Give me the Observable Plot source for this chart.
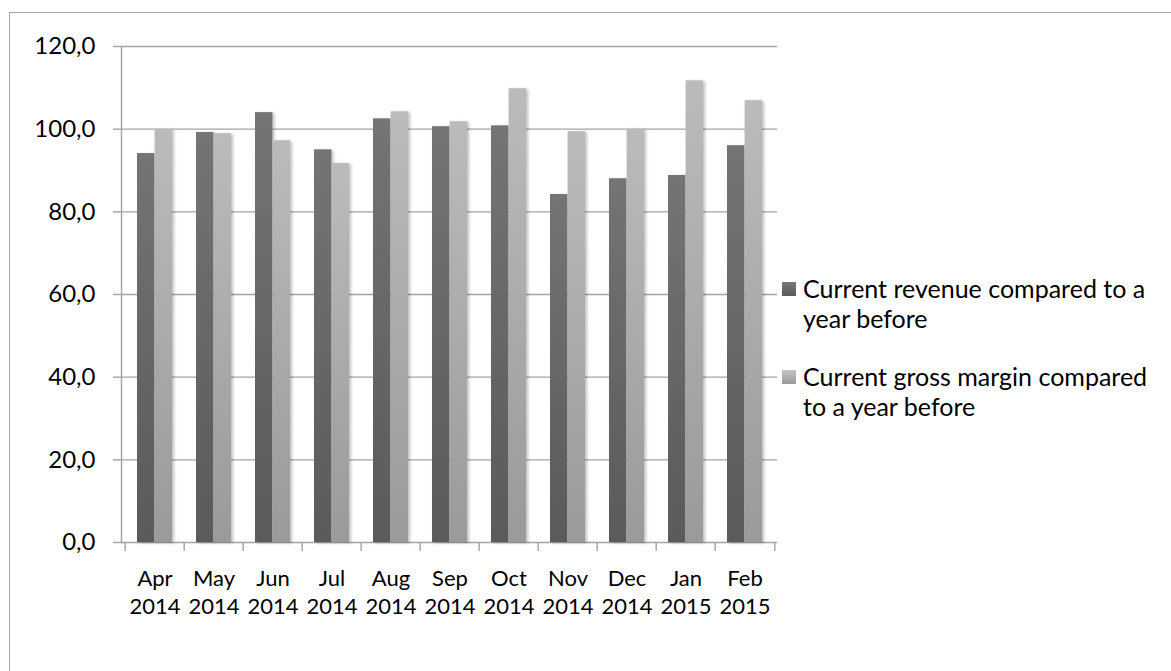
<!DOCTYPE html>
<html>
<head>
<meta charset="utf-8">
<script src="https://cdn.jsdelivr.net/npm/d3@7"></script>
<script src="https://cdn.jsdelivr.net/npm/@observablehq/plot@0.6"></script>
<style>
  html, body { margin: 0; padding: 0; background: #fff; }
  body { width: 1171px; height: 671px; position: relative; overflow: hidden; font-family: Lato, "Open Sans", sans-serif; }
  #frame { position: absolute; left: 9px; top: 12px; width: 1200px; height: 700px; border-left: 1.5px solid #a3a3a3; border-top: 1.5px solid #a3a3a3; box-sizing: border-box; }
  #chart { position: absolute; left: 0; top: 0; }
  #legend { position: absolute; left: 782px; top: 273px; font-size: 25px; line-height: 30px; color: #000; }
  .item { display: flex; align-items: flex-start; margin-bottom: 28px; }
  .sw { width: 14px; height: 14px; margin-top: 9px; margin-right: 7px; flex: none; }
</style>
</head>
<body>
<div id="frame"></div>
<div id="chart"></div>
<div id="legend"></div>
<script>
const months = ["Apr 2014","May 2014","Jun 2014","Jul 2014","Aug 2014","Sep 2014","Oct 2014","Nov 2014","Dec 2014","Jan 2015","Feb 2015"];
const revenue = [94.1, 99.2, 104.0, 95.0, 102.5, 100.6, 100.8, 84.2, 88.0, 88.8, 96.0];
const grossMargin = [99.9, 98.9, 97.2, 91.7, 104.2, 101.8, 109.8, 99.4, 100.0, 111.7, 106.9];
const seriesNames = ["Current revenue compared to a year before", "Current gross margin compared to a year before"];
const yTicks = [0, 20, 40, 60, 80, 100, 120];

const rows = months.map((m, i) => ({month: m, revenue: revenue[i], margin: grossMargin[i]}));

const W = 1171, H = 671;
const mL = 121, mR = W - 777, mT = 46, mB = H - 542;
const pIn = 0.41, pOut = 0.205;
const step = (W - mL - mR) / (months.length - pIn + 2 * pOut);
const bw = step * (1 - pIn);
const gridColor = "#a3a3a3";

const plot = Plot.plot({
  width: W, height: H,
  marginLeft: mL, marginRight: mR, marginTop: mT, marginBottom: mB,
  style: {fontFamily: "Lato, 'Open Sans', sans-serif", fontSize: "24px", color: "#000", background: "transparent"},
  x: {domain: months, paddingInner: pIn, paddingOuter: pOut, label: null},
  y: {domain: [0, 120], label: null},
  marks: [
    Plot.gridY(yTicks, {stroke: gridColor, strokeOpacity: 1, strokeWidth: 1.4}),
    Plot.frame({anchor: "left", stroke: gridColor, strokeWidth: 1.4}),
    Plot.axisY(yTicks, {tickSize: 8, tickPadding: 18, stroke: gridColor, strokeWidth: 1.4, tickFormat: d => d.toFixed(1).replace(".", ","), fontSize: 24, label: null}),
    Plot.axisX({tickSize: 9, text: null, dx: -step / 2, stroke: gridColor, strokeWidth: 1.4, label: null}),
    Plot.axisX([months[months.length - 1]], {tickSize: 9, text: null, dx: step / 2, stroke: gridColor, strokeWidth: 1.4, label: null}),
    Plot.axisX({tickSize: 0, tickPadding: 24, tickFormat: d => d.replace(" ", "\n"), lineHeight: 1.25, fontSize: 22, label: null}),
    Plot.barY(rows, {x: "month", y: "revenue", fill: "url(#gDark)", insetRight: bw / 2}),
    Plot.barY(rows, {x: "month", y: "margin", fill: "url(#gLight)", insetLeft: bw / 2})
  ]
});

const svg = d3.select(plot);
svg.insert("defs", ":first-child").html(`
  <linearGradient id="gDark" x1="0" y1="0" x2="0" y2="1">
    <stop offset="0" stop-color="#747474"/><stop offset="1" stop-color="#5a5a5a"/>
  </linearGradient>
  <linearGradient id="gLight" x1="0" y1="0" x2="0" y2="1">
    <stop offset="0" stop-color="#bbbbbb"/><stop offset="1" stop-color="#9a9a9a"/>
  </linearGradient>
  <filter id="shadow" x="-20%" y="-5%" width="150%" height="110%">
    <feDropShadow dx="2" dy="1" stdDeviation="1.5" flood-color="#000" flood-opacity="0.25"/>
  </filter>`);
svg.selectAll("g[aria-label=bar] rect").attr("filter", "url(#shadow)");
document.getElementById("chart").appendChild(plot);

const legend = document.getElementById("legend");
const swatches = ["linear-gradient(#777, #5a5a5a)", "linear-gradient(#c4c4c4, #9a9a9a)"];
seriesNames.forEach((name, i) => {
  const item = document.createElement("div");
  item.className = "item";
  const sw = document.createElement("div");
  sw.className = "sw";
  sw.style.background = swatches[i];
  const txt = document.createElement("div");
  txt.style.width = "352px";
  txt.textContent = name;
  item.appendChild(sw); item.appendChild(txt);
  legend.appendChild(item);
});
</script>
</body>
</html>
